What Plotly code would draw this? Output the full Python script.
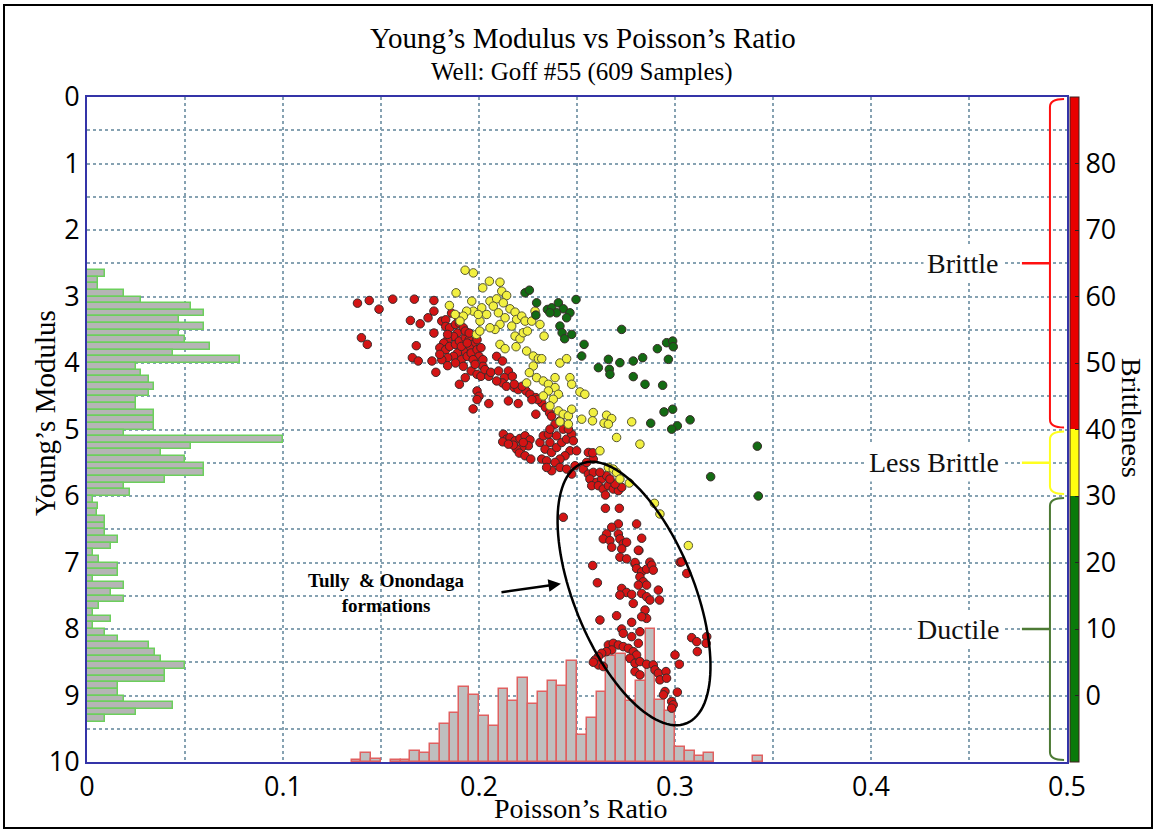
import numpy as np
import plotly.graph_objects as go

# ---------------- data ----------------
# Young's modulus histogram (left, horizontal), bins of 0.1 starting at 2.6
ym_bin_lo = [round(2.6 + 0.1 * i, 1) for i in range(68)]
ym_hist = [0.0092, 0.0058, 0.0058, 0.0187, 0.0277, 0.053, 0.0595, 0.047, 0.0595, 0.047,
           0.050, 0.0626, 0.044, 0.078, 0.0248, 0.0277, 0.0315, 0.034, 0.0315, 0.0248,
           0.0248, 0.034, 0.034, 0.034, 0.0187, 0.100, 0.053, 0.0376, 0.050, 0.0595,
           0.0595, 0.040, 0.0187, 0.0218, 0.003, 0.0058, 0.005, 0.0092, 0.009, 0.009,
           0.0158, 0.012, 0.003, 0.006, 0.0158, 0.0158, 0.003, 0.0187, 0.012, 0.0187,
           0.006, 0.003, 0.012, 0.003, 0.009, 0.0158, 0.0315, 0.0345, 0.0376, 0.050,
           0.040, 0.040, 0.0158, 0.0158, 0.0187, 0.044, 0.0248, 0.009]

# Poisson's ratio histogram (bottom), bins of 0.005
pr_bin_lo = [0.135, 0.140, 0.145, 0.155, 0.160, 0.165, 0.170, 0.175, 0.180, 0.185,
             0.190, 0.195, 0.200, 0.205, 0.210, 0.215, 0.220, 0.225, 0.230, 0.235,
             0.240, 0.245, 0.250, 0.255, 0.260, 0.265, 0.270, 0.275, 0.280, 0.285,
             0.290, 0.295, 0.300, 0.305, 0.310, 0.315, 0.340]
pr_hist = [0.03, 0.13, 0.04, 0.03, 0.03, 0.17, 0.13, 0.265, 0.575, 0.735,
           1.135, 1.01, 0.695, 0.535, 1.095, 0.91, 1.27, 0.875, 1.05, 1.225,
           1.145, 1.525, 0.40, 0.66, 1.05, 1.6, 1.63, 0.91, 1.215, 2.0,
           0.935, 0.77, 0.225, 0.165, 0.09, 0.13, 0.085]

red_pts = [
    (0.138, 3.10), (0.144, 3.06), (0.149, 3.19), (0.156, 3.04), (0.167, 3.04), (0.177, 3.06),
    (0.177, 3.22), (0.165, 3.36), (0.170, 3.41), (0.174, 3.32), (0.140, 3.62), (0.143, 3.72),
    (0.168, 3.74), (0.166, 3.92), (0.169, 3.97), (0.177, 3.55), (0.176, 3.97), (0.178, 4.14),
    (0.181, 3.37), (0.183, 3.35), (0.186, 3.25), (0.183, 3.45), (0.185, 3.47), (0.188, 3.42),
    (0.190, 3.40), (0.192, 3.47), (0.189, 3.55), (0.187, 3.60), (0.184, 3.65), (0.182, 3.70),
    (0.180, 3.77), (0.183, 3.80), (0.185, 3.75), (0.188, 3.72), (0.190, 3.67), (0.193, 3.62),
    (0.195, 3.65), (0.197, 3.72), (0.195, 3.77), (0.192, 3.82), (0.189, 3.85), (0.187, 3.90),
    (0.184, 3.92), (0.181, 3.95), (0.180, 3.87), (0.191, 3.95), (0.194, 3.90), (0.196, 3.85),
    (0.199, 3.80), (0.201, 3.77), (0.200, 3.90), (0.197, 3.95), (0.202, 3.95), (0.199, 3.65),
    (0.193, 3.52), (0.195, 3.55), (0.189, 3.30), (0.184, 3.57), (0.191, 3.75), (0.194, 3.70),
    (0.188, 4.00), (0.184, 4.04), (0.192, 4.05), (0.196, 4.12), (0.199, 4.17), (0.201, 4.20),
    (0.205, 4.20), (0.202, 4.05), (0.198, 4.02), (0.203, 4.10), (0.209, 3.90), (0.212, 3.97),
    (0.215, 4.12), (0.213, 4.22), (0.217, 4.20), (0.212, 4.30), (0.209, 4.27), (0.214, 4.35),
    (0.218, 4.37), (0.220, 4.40), (0.224, 4.42), (0.226, 4.47), (0.229, 4.52), (0.232, 4.60),
    (0.234, 4.67), (0.236, 4.75), (0.237, 4.80), (0.230, 4.55), (0.227, 4.55), (0.222, 4.35),
    (0.218, 4.32), (0.193, 4.22), (0.190, 4.32), (0.199, 4.42), (0.200, 4.50), (0.199, 4.55),
    (0.197, 4.69), (0.205, 4.61), (0.215, 4.57), (0.220, 4.61), (0.229, 4.77), (0.206, 4.14),
    (0.210, 4.12),
    (0.2124, 5.07), (0.2141, 5.145), (0.2121, 5.185), (0.2158, 5.12), (0.2184, 5.17), (0.2209, 5.135),
    (0.2235, 5.095), (0.2260, 5.155), (0.2252, 5.245), (0.2218, 5.27), (0.2192, 5.295), (0.2206, 5.355),
    (0.2235, 5.395), (0.2264, 5.445), (0.2175, 5.235), (0.2150, 5.22), (0.2226, 5.195),
    (0.2311, 5.195), (0.2328, 5.095), (0.2354, 5.07), (0.2362, 5.195), (0.2337, 5.295), (0.2320, 5.445),
    (0.2345, 5.47), (0.2370, 5.345), (0.2396, 5.27), (0.2422, 5.195), (0.2447, 5.145), (0.2473, 5.07),
    (0.2388, 4.92), (0.2413, 4.87), (0.2430, 4.995), (0.2456, 4.995), (0.2481, 5.17), (0.2464, 5.32),
    (0.2439, 5.395), (0.2413, 5.445), (0.2388, 5.495), (0.2371, 5.62), (0.2413, 5.57), (0.2447, 5.595),
    (0.2473, 5.67), (0.2490, 5.545), (0.2345, 5.57), (0.2498, 5.32), (0.2396, 5.095), (0.2362, 4.995),
    (0.2532, 5.595), (0.2558, 5.67), (0.2583, 5.645), (0.2566, 5.745), (0.2600, 5.795), (0.2626, 5.745),
    (0.2651, 5.695), (0.2617, 5.645), (0.2583, 5.445), (0.2558, 5.345), (0.2575, 5.845), (0.2609, 5.845),
    (0.2634, 5.895), (0.2660, 5.845), (0.2685, 5.895), (0.2711, 5.92), (0.2728, 5.87), (0.2694, 5.82),
    (0.2668, 5.745), (0.2645, 5.985), (0.2580, 5.35), (0.2549, 5.495),
    (0.2430, 6.32), (0.2645, 6.185), (0.2716, 6.185), (0.2711, 6.42), (0.2677, 6.47), (0.2651, 6.57),
    (0.2634, 6.645), (0.2668, 6.67), (0.2711, 6.57), (0.2719, 6.645), (0.2736, 6.72), (0.2753, 6.695),
    (0.2728, 6.795), (0.2677, 6.77), (0.2830, 6.635), (0.2804, 6.42), (0.2816, 6.82), (0.2719, 6.92),
    (0.2753, 6.945), (0.2796, 7.02), (0.2872, 6.995), (0.2580, 7.045), (0.3026, 6.995),
    (0.2813, 6.815), (0.2796, 7.00), (0.2804, 7.09), (0.2830, 7.14), (0.2855, 7.10), (0.2881, 7.04),
    (0.2889, 7.115), (0.2821, 7.215), (0.2838, 7.29), (0.2813, 7.34), (0.2855, 7.34), (0.2604, 7.305),
    (0.2728, 7.39), (0.2753, 7.45), (0.2719, 7.49), (0.2779, 7.48), (0.2830, 7.465), (0.2855, 7.515),
    (0.2872, 7.565), (0.2915, 7.415), (0.2921, 7.565), (0.2787, 7.615), (0.2847, 7.715), (0.2855, 7.84),
    (0.2830, 7.815), (0.2617, 7.865), (0.2702, 7.80), (0.2779, 7.90), (0.2728, 8.00), (0.2736, 8.065),
    (0.2779, 8.115), (0.2821, 8.04), (0.2813, 8.215), (0.2660, 8.24), (0.2685, 8.215), (0.2711, 8.24),
    (0.2736, 8.265), (0.2762, 8.29), (0.2677, 8.315), (0.2650, 8.34), (0.2626, 8.365), (0.2609, 8.415),
    (0.2592, 8.465), (0.2609, 8.54), (0.2634, 8.565), (0.2787, 8.34), (0.2804, 8.39), (0.2770, 8.44),
    (0.2796, 8.515), (0.2821, 8.49), (0.2855, 8.53), (0.2889, 8.54), (0.2898, 8.615), (0.2796, 8.64),
    (0.2821, 8.69), (0.2915, 8.665), (0.2923, 8.765), (0.2954, 8.64), (0.2957, 8.74), (0.2949, 8.94),
    (0.2941, 8.99), (0.2983, 9.09), (0.2991, 9.14), (0.2983, 9.19), (0.3000, 8.39), (0.3022, 8.53),
    (0.3012, 8.95), (0.3034, 6.99), (0.3060, 7.165), (0.3085, 8.13), (0.3111, 8.19), (0.3162, 8.115),
    (0.3159, 8.215), (0.3114, 8.34), (0.2583, 8.50),
]

yel_pts = [
    (0.1929, 2.605), (0.1971, 2.645), (0.1883, 2.945), (0.1849, 3.135), (0.2019, 2.87), (0.2053, 2.77),
    (0.2107, 2.785), (0.2116, 2.92), (0.2141, 2.985), (0.2056, 3.07), (0.2090, 3.035), (0.2073, 3.145),
    (0.2124, 3.095), (0.2158, 3.185), (0.2184, 3.235), (0.2192, 3.345), (0.2218, 3.295), (0.2235, 3.37),
    (0.2014, 3.17), (0.2039, 3.27), (0.2005, 3.37), (0.1971, 3.22), (0.1963, 3.07), (0.1937, 3.22),
    (0.1920, 3.295), (0.1903, 3.37), (0.1878, 3.27), (0.2099, 3.245), (0.2133, 3.32), (0.2107, 3.42),
    (0.2082, 3.495), (0.2056, 3.47), (0.2167, 3.445), (0.2184, 3.595), (0.2209, 3.635), (0.2226, 3.545),
    (0.2247, 3.52), (0.2107, 3.72), (0.2133, 3.785), (0.2189, 3.755), (0.2243, 3.82), (0.2277, 3.895),
    (0.2303, 3.935), (0.2320, 3.935), (0.2286, 3.22), (0.2269, 3.37), (0.2311, 3.42), (0.2332, 3.595),
    (0.2277, 4.045), (0.2257, 4.145), (0.2294, 4.22), (0.2328, 4.27), (0.2354, 4.32), (0.2388, 4.22),
    (0.2413, 4.00), (0.2447, 3.935), (0.2464, 4.22), (0.2473, 4.32), (0.2388, 4.37), (0.2354, 4.42),
    (0.2328, 4.495), (0.2405, 4.47), (0.2379, 4.545), (0.2362, 4.645), (0.2405, 4.72), (0.2430, 4.77),
    (0.2456, 4.795), (0.2473, 4.695), (0.2515, 4.435), (0.2540, 4.47), (0.2524, 4.845), (0.2583, 4.745),
    (0.2579, 4.87), (0.2651, 4.785), (0.2677, 4.835), (0.2638, 4.905), (0.2660, 4.92), (0.2779, 4.885),
    (0.2702, 5.12), (0.2821, 5.22), (0.2617, 5.32), (0.2456, 4.92), (0.2413, 4.885), (0.2243, 4.30),
    (0.1987, 3.57), (0.2004, 3.52), (0.1996, 3.27),
    (0.2660, 5.57), (0.2685, 5.595), (0.2702, 5.645), (0.2719, 5.745), (0.2767, 5.805), (0.2895, 6.11),
    (0.2923, 6.27), (0.3068, 6.745),
]

grn_pts = [
    (0.2235, 2.945), (0.2257, 2.905), (0.2294, 3.095), (0.2349, 3.195), (0.2371, 3.17), (0.2405, 3.095),
    (0.2430, 3.185), (0.2464, 3.245), (0.2447, 3.32), (0.2495, 3.045), (0.2290, 3.28), (0.2396, 3.245),
    (0.2362, 3.245), (0.2413, 3.445), (0.2424, 3.545), (0.2437, 3.635), (0.2473, 3.57), (0.2536, 3.72),
    (0.2524, 3.895), (0.2728, 3.495), (0.2609, 4.07), (0.2660, 3.945), (0.2665, 4.095), (0.2668, 4.17),
    (0.2719, 3.995), (0.2787, 3.97), (0.2835, 3.92), (0.2787, 4.205), (0.2847, 4.32), (0.2937, 4.335),
    (0.2910, 3.785), (0.2957, 3.695), (0.2988, 3.67), (0.2991, 3.755), (0.2966, 3.945), (0.2944, 4.735),
    (0.2988, 4.695), (0.2876, 4.905), (0.3012, 4.945), (0.2983, 4.995), (0.3077, 4.855), (0.3182, 5.71),
    (0.3420, 5.25), (0.3425, 6.00),
]

red_x = [p[0] for p in red_pts]
red_y = [p[1] for p in red_pts]
yel_x = [p[0] for p in yel_pts]
yel_y = [p[1] for p in yel_pts]
grn_x = [p[0] for p in grn_pts]
grn_y = [p[1] for p in grn_pts]

brit_ticks = [0, 10, 20, 30, 40, 50, 60, 70, 80]
brit_range = [-10, 90]
x_ticks = [0, 0.1, 0.2, 0.3, 0.4, 0.5]
y_ticks = list(range(0, 11))

# ---------------- layout geometry ----------------
W, H = 1156, 832
L, R, T, B = 87, 89, 97, 70
PW, PH = W - L - R, H - T - B
SERIF = "Liberation Serif, Times New Roman, serif"
SANS = "Open Sans, Noto Sans, sans-serif"


def px(xp):
    return (xp - L) / PW


def py(yp):
    return (H - B - yp) / PH


fig = go.Figure()

fig.add_trace(go.Bar(
    orientation="h", x=ym_hist, y=[v + 0.05 for v in ym_bin_lo], width=0.1, base=0,
    marker=dict(color="#b5b5b5", line=dict(color="#6ccf5c", width=1.5)),
    showlegend=False, hoverinfo="skip"))

fig.add_trace(go.Bar(
    x=[v + 0.0025 for v in pr_bin_lo], y=[-h for h in pr_hist], base=10, width=0.005,
    marker=dict(color="#bfbfbf", line=dict(color="#e06060", width=1.5)),
    showlegend=False, hoverinfo="skip"))

mk_line = dict(color="#3a2a2a", width=1)
fig.add_trace(go.Scatter(x=red_x, y=red_y, mode="markers", showlegend=False,
                         marker=dict(size=8.5, color="#d41414", line=mk_line)))
fig.add_trace(go.Scatter(x=yel_x, y=yel_y, mode="markers", showlegend=False,
                         marker=dict(size=8.5, color="#f2f040", line=dict(color="#555533", width=1))))
fig.add_trace(go.Scatter(x=grn_x, y=grn_y, mode="markers", showlegend=False,
                         marker=dict(size=8.5, color="#136b13", line=mk_line)))

cscale = [[0, "#0a7a0a"], [0.4, "#0a7a0a"], [0.4, "#ffff10"], [0.5, "#ffff10"],
          [0.5, "#e80000"], [1, "#e80000"]]
fig.add_trace(go.Scatter(
    x=[None, None], y=[None, None], mode="markers", showlegend=False, hoverinfo="skip",
    marker=dict(color=brit_range, cmin=brit_range[0], cmax=brit_range[1], colorscale=cscale,
                showscale=True,
                colorbar=dict(thickness=9, thicknessmode="pixels", len=1, lenmode="fraction",
                              x=px(1070), xanchor="left", xpad=0, y=0.5, yanchor="middle", ypad=0,
                              outlinewidth=1, outlinecolor="#402020",
                              tickvals=brit_ticks, ticks="inside", ticklen=4, tickcolor="#222",
                              tickfont=dict(family=SANS, size=27, color="black")))))

grid = dict(showgrid=True, gridcolor="#86a2b2", griddash="dot", gridwidth=1.5)
fig.update_xaxes(range=[0, 0.5], tickvals=x_ticks, ticktext=["0", "0.1", "0.2", "0.3", "0.4", "0.5"],
                 tickfont=dict(family=SANS, size=27, color="black"), ticks="",
                 showline=True, linecolor="#3434a8", linewidth=2, mirror=True, zeroline=False,
                 minor=dict(dtick=0.05, ticklen=0, **grid), **grid)
fig.update_yaxes(range=[10, 0], tickvals=y_ticks,
                 tickfont=dict(family=SANS, size=27, color="black"), ticks="",
                 showline=True, linecolor="#3434a8", linewidth=2, mirror=True, zeroline=False,
                 minor=dict(dtick=0.5, ticklen=0, **grid), **grid)

# ellipse around Tully & Onondaga formations
ell_cx, ell_cy = 0.2791, 7.466
ell_a_px, ell_b_px, ell_tilt = 140, 60, np.radians(22)
sx, sy = PW / 0.5, PH / 10.0
t = np.linspace(0, 2 * np.pi, 121)
dx = ell_a_px * np.cos(t) * np.sin(ell_tilt) + ell_b_px * np.sin(t) * np.cos(ell_tilt)
dy = ell_a_px * np.cos(t) * np.cos(ell_tilt) - ell_b_px * np.sin(t) * np.sin(ell_tilt)
ex = ell_cx + dx / sx
ey = ell_cy + dy / sy
ell_path = "M " + " L ".join(f"{a:.5f},{b:.4f}" for a, b in zip(ex, ey)) + " Z"

shapes = [dict(type="path", path=ell_path, xref="x", yref="y", line=dict(color="black", width=2.5))]

# brackets
bx_line, bx_hook, bx_tip = 0.4913, 0.4985, 0.4770
brackets = [(0.0, 5.0, "#ff1010"), (5.0, 6.0, "#ffff20"), (6.0, 10.0, "#4d7a35")]
for y0, y1, col in brackets:
    ym = (y0 + y1) / 2
    p = (f"M {bx_hook},{y0 + 0.03} Q {bx_line},{y0 + 0.03} {bx_line},{y0 + 0.15} "
         f"L {bx_line},{y1 - 0.15} Q {bx_line},{y1 - 0.03} {bx_hook},{y1 - 0.03}")
    shapes.append(dict(type="path", path=p, xref="x", yref="y", line=dict(color=col, width=2)))
    shapes.append(dict(type="line", x0=bx_tip, x1=bx_line, y0=ym, y1=ym, xref="x", yref="y",
                       line=dict(color=col, width=2.5)))

# outer image frame
shapes.append(dict(type="rect", xref="paper", yref="paper", x0=px(4), x1=px(1152), y0=py(828), y1=py(5),
                   line=dict(color="black", width=2), layer="below"))

ann = [
    dict(text="Young’s Modulus vs Poisson’s Ratio", x=px(583), y=py(38), font=dict(family=SERIF, size=29)),
    dict(text="Well: Goff #55 (609 Samples)", x=px(582), y=py(72), font=dict(family=SERIF, size=25)),
    dict(text="Young’s Modulus", x=px(45), y=py(413), textangle=-90, font=dict(family=SERIF, size=29)),
    dict(text="Poisson’s Ratio", x=px(580), y=py(808), font=dict(family=SERIF, size=28)),
    dict(text="Brittleness", x=px(1132), y=py(418), textangle=90, font=dict(family=SERIF, size=28)),
    dict(text="<b>Tully  & Onondaga</b><br><b>formations</b>", x=px(386), y=py(593),
         font=dict(family=SERIF, size=19)),
]
for a in ann:
    a.update(xref="paper", yref="paper", showarrow=False, xanchor="center", yanchor="middle")
    a["font"]["color"] = "black"

for label, yv in [("Brittle", 2.5), ("Less Brittle", 5.5), ("Ductile", 8.0)]:
    ann.append(dict(text=label, x=0.4675, y=yv, xref="x", yref="y", xanchor="right", yanchor="middle",
                    showarrow=False, bgcolor="white", borderpad=3,
                    font=dict(family=SERIF, size=28, color="#111")))

ann.append(dict(text="", x=0.2418, y=7.32, ax=0.2107, ay=7.45, xref="x", yref="y", axref="x", ayref="y",
                showarrow=True, arrowhead=2, arrowsize=1, arrowwidth=2.5, arrowcolor="black"))

fig.update_layout(
    width=W, height=H, margin=dict(l=L, r=R, t=T, b=B, autoexpand=False),
    paper_bgcolor="white", plot_bgcolor="white", barmode="overlay", bargap=0,
    shapes=shapes, annotations=ann, showlegend=False)

fig.write_html("out.html")
